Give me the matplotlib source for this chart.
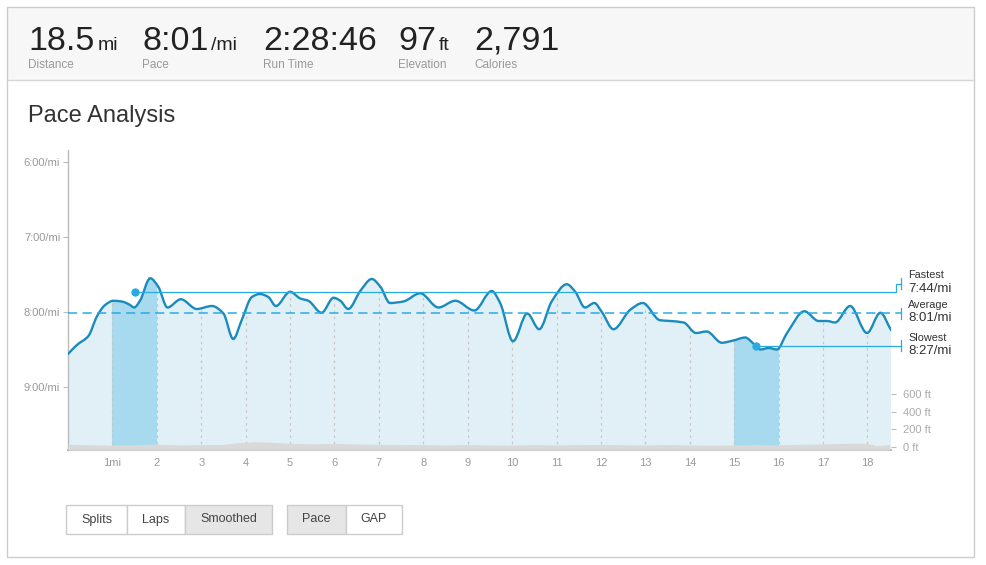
import matplotlib
matplotlib.use("Agg")
import matplotlib.pyplot as plt
from matplotlib.path import Path
from matplotlib.patches import PathPatch, Rectangle
from matplotlib.lines import Line2D
import numpy as np

# ---------------- data ----------------
summary_values = ["18.5", "8:01", "2:28:46", "97", "2,791"]
summary_units = ["mi", "/mi", "", "ft", ""]
summary_labels = ["Distance", "Pace", "Run Time", "Elevation", "Calories"]

pace_miles = [0.00, 0.20, 0.46, 0.65, 0.83, 1.02, 1.21, 1.38, 1.49, 1.62, 1.85, 2.03,
              2.24, 2.54, 2.90, 3.24, 3.50, 3.72, 3.91, 4.14, 4.32, 4.51, 4.68, 5.00,
              5.23, 5.41, 5.71, 5.98, 6.13, 6.31, 6.58, 6.84, 7.03, 7.25, 7.55, 7.93,
              8.34, 8.72, 9.15, 9.54, 9.73, 10.02, 10.34, 10.61, 10.89, 11.23, 11.42,
              11.64, 11.85, 12.02, 12.28, 12.66, 12.94, 13.33, 13.56, 13.86, 14.14,
              14.38, 14.72, 14.98, 15.25, 15.43, 15.59, 15.78, 15.96, 16.19, 16.58,
              16.90, 17.09, 17.27, 17.61, 17.99, 18.29, 18.53]
pace_min = [8.56, 8.44, 8.32, 8.06, 7.91, 7.85, 7.86, 7.90, 7.94, 7.85, 7.55, 7.66,
            7.94, 7.83, 7.96, 7.92, 8.02, 8.36, 8.11, 7.80, 7.76, 7.80, 7.92, 7.73,
            7.82, 7.85, 8.01, 7.81, 7.85, 7.96, 7.72, 7.56, 7.66, 7.88, 7.86, 7.75,
            7.94, 7.85, 7.98, 7.72, 7.88, 8.39, 8.02, 8.23, 7.86, 7.63, 7.73,
            7.94, 7.88, 8.00, 8.23, 7.97, 7.88, 8.11, 8.12, 8.14, 8.28,
            8.26, 8.41, 8.38, 8.34, 8.42, 8.50, 8.48, 8.50, 8.28, 7.99,
            8.12, 8.12, 8.14, 7.92, 8.28, 8.01, 8.24]

elev_miles = [0, 0.5, 1, 1.5, 2, 2.5, 3, 3.5, 3.8, 4.2, 4.6, 5, 5.5, 6, 6.5, 7, 7.5, 8,
              8.5, 9, 9.5, 10, 10.5, 11, 11.5, 12, 12.5, 13, 13.5, 14, 14.5, 15, 15.5,
              16, 16.5, 17, 17.5, 18, 18.2, 18.5]
elev_ft = [28, 22, 18, 22, 30, 20, 24, 26, 45, 58, 50, 40, 33, 38, 30, 28, 26, 24,
           20, 24, 20, 18, 24, 20, 24, 26, 22, 20, 24, 20, 18, 20, 24,
           20, 28, 32, 38, 38, 12, 22]

split_highlights = [(1, 2), (15, 16)]
fastest_mile, fastest_pace, fastest_label = 1.5, 7 + 44 / 60, "7:44/mi"
average_pace, average_label = 8 + 1 / 60, "8:01/mi"
slowest_mile, slowest_pace, slowest_label = 15.5, 8 + 27 / 60, "8:27/mi"

pace_ticks = [6, 7, 8, 9]
pace_tick_labels = ["6:00/mi", "7:00/mi", "8:00/mi", "9:00/mi"]
mile_ticks = list(range(1, 19))
mile_tick_labels = ["1mi"] + [str(m) for m in range(2, 19)]
elev_ticks = [0, 200, 400, 600]
elev_tick_labels = ["0 ft", "200 ft", "400 ft", "600 ft"]

buttons = ["Splits", "Laps", "Smoothed", "Pace", "GAP"]
buttons_active = [False, False, True, True, False]

# ---------------- style ----------------
plt.rcParams["font.family"] = ["Liberation Sans", "DejaVu Sans"]

LINE = "#1b8bbd"
FILL = "#e1f0f7"
BAND = "#a7daee"
REF = "#29abe2"
ELEV = "#d9d9d9"
GRID = "#c6c6c6"
AXC = "#bbbbbb"
TXT = "#999999"

W, H = 986, 565
fig = plt.figure(figsize=(W / 100, H / 100), dpi=100)
renderer = fig.canvas.get_renderer()


def fx(x):
    return x / W


def fy(y):
    return 1 - y / H


# frame and header
fig.add_artist(Rectangle((fx(7), fy(80)), (974 - 7) / W, (80 - 7) / H,
                         transform=fig.transFigure, fc="#f7f7f7", ec="none", zorder=0))
fig.add_artist(Line2D([fx(7), fx(974)], [fy(80), fy(80)], color="#d6d6d6", lw=1,
                      transform=fig.transFigure))
fig.add_artist(Rectangle((fx(7), fy(557)), (974 - 7) / W, (557 - 7) / H,
                         transform=fig.transFigure, fill=False, ec="#cccccc", lw=1))

val_x = [28, 142, 263, 398, 474]
for v, u, lab, x in zip(summary_values, summary_units, summary_labels, val_x):
    t = fig.text(fx(x), fy(50), v, fontsize=24.5, color="#222222", va="baseline")
    if u:
        bb = t.get_window_extent(renderer)
        fig.text(fx(bb.x1 + 3), fy(50), u, fontsize=14, color="#222222", va="baseline")
    fig.text(fx(x), fy(68), lab, fontsize=8.5, color="#999999", va="baseline")

fig.text(fx(28), fy(122), "Pace Analysis", fontsize=17, color="#333333", va="baseline")

# ---------------- chart ----------------
AX_L, AX_R, AX_T, AX_B = 68, 891, 150, 450
ax = fig.add_axes([fx(AX_L), fy(AX_B), (AX_R - AX_L) / W, (AX_B - AX_T) / H])
XMIN, XMAX = 0, pace_miles[-1]
YBOT, YTOP = 9.84, 5.84
ax.set_xlim(XMIN, XMAX)
ax.set_ylim(YBOT, YTOP)
XPX = (XMAX - XMIN) / (AX_R - AX_L)
YPX = (YBOT - YTOP) / (AX_B - AX_T)

x = np.array(pace_miles)
y = np.array(pace_min)
h = np.diff(x)
d = np.diff(y) / h
m = np.zeros_like(y)
for i in range(1, len(y) - 1):
    if d[i - 1] * d[i] <= 0:
        m[i] = 0
    else:
        w1 = 2 * h[i] + h[i - 1]
        w2 = h[i] + 2 * h[i - 1]
        m[i] = (w1 + w2) / (w1 / d[i - 1] + w2 / d[i])
m[0] = d[0]
m[-1] = d[-1]

verts = [(x[0], y[0])]
codes = [Path.MOVETO]
for i in range(len(x) - 1):
    verts += [(x[i] + h[i] / 3, y[i] + m[i] * h[i] / 3),
              (x[i + 1] - h[i] / 3, y[i + 1] - m[i + 1] * h[i] / 3),
              (x[i + 1], y[i + 1])]
    codes += [Path.CURVE4] * 3

fill_path = Path(verts + [(x[-1], YBOT), (x[0], YBOT), (x[0], y[0])],
                 codes + [Path.LINETO, Path.LINETO, Path.CLOSEPOLY])
fill_patch = PathPatch(fill_path, fc=FILL, ec="none", zorder=1)
ax.add_patch(fill_patch)

for a, b in split_highlights:
    sp = ax.axvspan(a, b, color=BAND, lw=0, zorder=1.5)
    sp.set_clip_path(fill_patch)

for mt in mile_ticks:
    gl, = ax.plot([mt, mt], [YBOT, YTOP], color=GRID, lw=0.9, ls=(0, (2, 3)), zorder=2)
    gl.set_clip_path(fill_patch)

ax.add_patch(PathPatch(Path(verts, codes), fc="none", ec=LINE, lw=1.7, zorder=4,
                       capstyle="round", joinstyle="round"))

# reference lines and brackets
x_stub = XMAX + 5 * XPX
x_bar = XMAX + 9.7 * XPX
x_txt = XMAX + 17.3 * XPX
fshift = 8.5 * YPX
fc_ = fastest_pace - fshift
ax.plot([fastest_mile, x_stub, x_stub, x_bar], [fastest_pace, fastest_pace, fc_, fc_],
        color=REF, lw=0.9, clip_on=False, zorder=5)
ax.plot([0, x_bar], [average_pace, average_pace], color=REF, lw=1.1,
        dashes=(6, 3.5), clip_on=False, zorder=5)
ax.plot([slowest_mile, x_bar], [slowest_pace, slowest_pace], color=REF, lw=0.9,
        clip_on=False, zorder=5)
for name, center, lab in [("Fastest", fc_, fastest_label),
                          ("Average", average_pace, average_label),
                          ("Slowest", slowest_pace, slowest_label)]:
    ax.plot([x_bar, x_bar], [center - 5.5 * YPX, center + 5.5 * YPX], color=REF, lw=0.9,
            clip_on=False, zorder=5)
    ax.text(x_txt, center - 8 * YPX, name, fontsize=7.8, color="#333333", va="center",
            ha="left", clip_on=False)
    ax.text(x_txt, center + 5 * YPX, lab, fontsize=9.5, color="#333333", va="center",
            ha="left", clip_on=False)

ax.plot([fastest_mile], [fastest_pace], "o", ms=6, color=REF, mec="none", zorder=6,
        clip_on=False)
ax.plot([slowest_mile], [slowest_pace], "o", ms=6, color=REF, mec="none", zorder=6,
        clip_on=False)

# axes styling
for s in ["top", "right"]:
    ax.spines[s].set_visible(False)
ax.spines["left"].set_color(AXC)
ax.spines["left"].set_linewidth(1)
ax.spines["bottom"].set_color(AXC)
ax.spines["bottom"].set_linewidth(1.5)
ax.spines["bottom"].set_zorder(10)
ax.set_yticks(pace_ticks)
ax.set_yticklabels(pace_tick_labels)
ax.set_xticks(mile_ticks)
ax.set_xticklabels(mile_tick_labels)
ax.tick_params(axis="y", length=3.6, width=0.8, color=AXC, labelcolor=TXT,
               labelsize=8, pad=2)
ax.tick_params(axis="x", length=0, labelcolor=TXT, labelsize=8, pad=6)

# elevation
ax2 = ax.twinx()
ax2.set_ylim(-38, 3398)
ax2.fill_between(elev_miles, elev_ft, -38, color=ELEV, lw=0)
for s in ax2.spines.values():
    s.set_visible(False)
ax2.set_yticks(elev_ticks)
ax2.set_yticklabels(elev_tick_labels)
ax2.tick_params(axis="y", length=3.6, width=0.8, color=AXC, labelcolor="#aaaaaa",
                labelsize=8, pad=5)
ax2.set_xlim(XMIN, XMAX)

# buttons
btn_x = [(66, 127), (127, 185), (185, 272), (287, 346), (346, 402)]
for lab, (x0, x1), act in zip(buttons, btn_x, buttons_active):
    fig.add_artist(Rectangle((fx(x0), fy(534)), (x1 - x0) / W, 29 / H,
                             transform=fig.transFigure,
                             fc="#e6e6e6" if act else "white", ec="#cccccc", lw=1))
    fig.text(fx((x0 + x1) / 2), fy(519.5), lab, fontsize=9, color="#444444",
             ha="center", va="center")

fig.savefig("out.png", dpi=100)
